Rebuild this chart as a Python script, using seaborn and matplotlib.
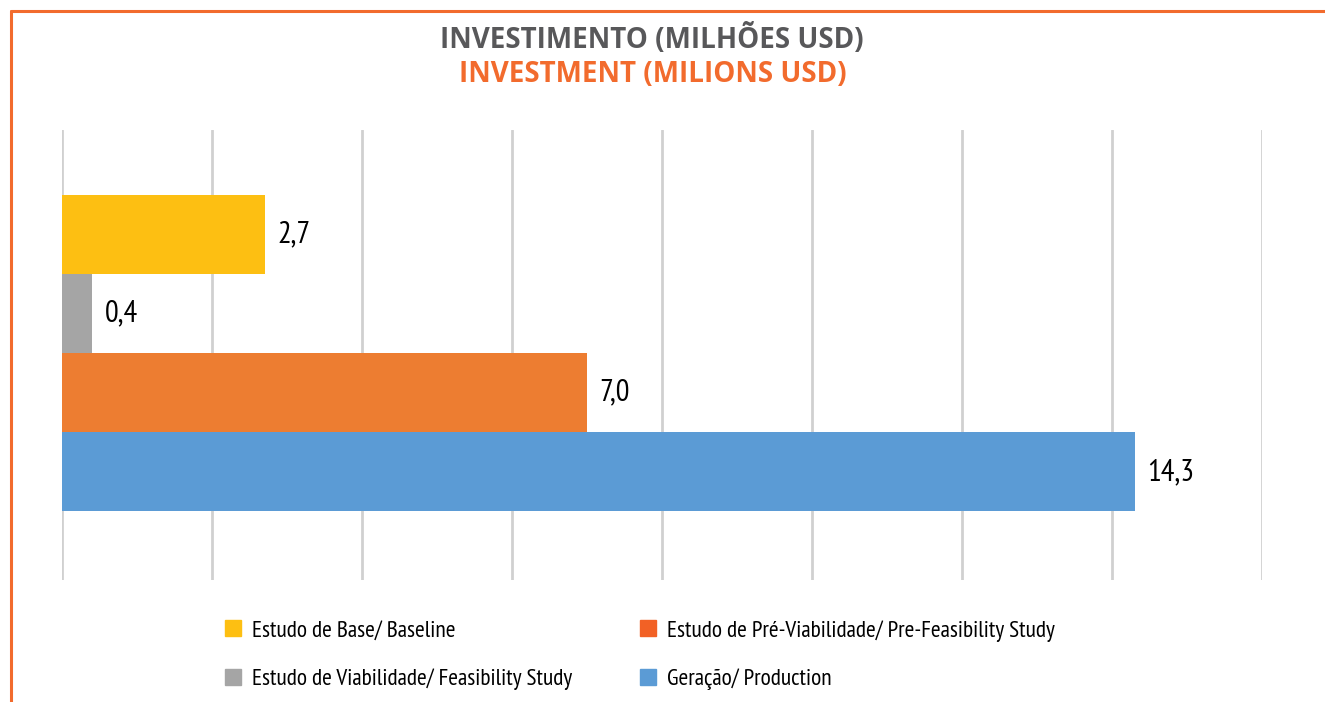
import matplotlib
matplotlib.use("Agg")
import matplotlib.pyplot as plt
import matplotlib.lines as mlines
import seaborn as sns
import pandas as pd

# Data
category = ["Investimento"]
series = [
    "Estudo de Base/ Baseline",
    "Estudo de Viabilidade/ Feasibility Study",
    "Estudo de Pré-Viabilidade/ Pre-Feasibility Study",
    "Geração/ Production",
]
values = [2.7, 0.4, 7.0, 14.3]
bar_colors = ["#FDBF12", "#A5A5A5", "#ED7D31", "#5B9BD5"]
legend_colors = ["#FDBF12", "#A5A5A5", "#F26125", "#5B9BD5"]

df = pd.DataFrame({"cat": category * len(series), "serie": series, "valor": values})

sns.set_theme(style="white")
plt.rcParams["font.family"] = ["PT Sans Narrow", "Archivo Narrow", "DejaVu Sans"]

fig = plt.figure(figsize=(13.25, 7.02), dpi=100)
ax = fig.add_axes([62 / 1325, 1 - 580 / 702, 1200 / 1325, 450 / 702])

sns.barplot(data=df, x="valor", y="cat", hue="serie", hue_order=series,
            palette=dict(zip(series, bar_colors)), orient="h",
            width=0.8, saturation=1, linewidth=0, ax=ax, legend=True)

ax.set_xlim(0, 16)
ax.set_ylim(0.573, -0.563)
ax.set_xticks(range(0, 17, 2))
ax.set_xticklabels([])
ax.set_yticks([])
ax.set_xlabel("")
ax.set_ylabel("")
for s in ax.spines.values():
    s.set_visible(False)
ax.grid(axis="x", color="#D0D0D0", linewidth=2)
ax.set_axisbelow(True)
ax.tick_params(length=0)

for cont in ax.containers:
    ax.bar_label(cont, labels=[f"{v:.1f}".replace(".", ",") for v in cont.datavalues],
                 padding=9, fontsize=22, color="#000000")

# Legend
handles, labels = ax.get_legend_handles_labels()
ax.get_legend().remove()
handles = [mlines.Line2D([], [], marker="s", linestyle="none", markersize=11.5,
                         markerfacecolor=c, markeredgecolor=c) for c in legend_colors]
leg = fig.legend(handles, labels, ncol=2, loc="center left",
                 bbox_to_anchor=(203 / 1325, 1 - 655 / 702), frameon=False,
                 fontsize=16.8, handlelength=0.8, handletextpad=0.4,
                 columnspacing=2.85, labelspacing=1.15)
for t in leg.get_texts():
    t.set_color("#000000")

# Titles
fig.text(652 / 1325, 1 - 40 / 702, "INVESTIMENTO (MILHÕES USD)", ha="center", va="center",
         fontsize=20, fontweight="bold", color="#58585A", family=["Open Sans", "DejaVu Sans"])
fig.text(653 / 1325, 1 - 74 / 702, "INVESTMENT (MILIONS USD)", ha="center", va="center",
         fontsize=20, fontweight="bold", color="#F26B2D", family=["Open Sans", "DejaVu Sans"])

# Orange frame on top and left edges
fig.add_artist(mlines.Line2D([11 / 1325, 11 / 1325], [0, 1 - 11 / 702],
                             transform=fig.transFigure, color="#F26B2D", linewidth=2.2))
fig.add_artist(mlines.Line2D([11 / 1325, 1], [1 - 11 / 702, 1 - 11 / 702],
                             transform=fig.transFigure, color="#F26B2D", linewidth=2.2))

fig.savefig("out.png", dpi=100, facecolor="white")
